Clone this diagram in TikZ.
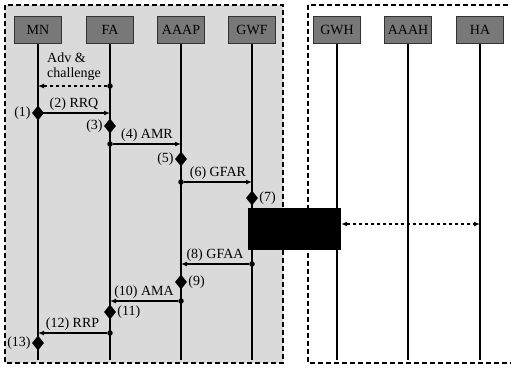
\documentclass[tikz,border=0pt]{standalone}
\usepackage{fontspec}
\setmainfont{Liberation Serif}
\usetikzlibrary{arrows.meta,positioning,shapes.geometric}
\definecolor{shade}{RGB}{218,218,218}
\definecolor{head}{RGB}{120,120,120}

\begin{document}
\begin{tikzpicture}[x=1pt, y=-1pt, font=\fontsize{14}{15}\selectfont,
  ent/.style={draw=black!80, fill=head, minimum width=47pt, minimum height=27pt, inner sep=1pt},
  evt/.style={diamond, fill=black, inner sep=0pt, minimum width=12pt, minimum height=15pt},
  dot/.style={circle, fill=black, inner sep=0pt, minimum size=5.5pt},
  msg/.style={-{Latex[length=6pt,width=5pt]}, line width=1.2pt},
  zone/.style={line width=1.8pt, dash pattern=on 5pt off 3pt}]
\useasboundingbox (0,0) rectangle (511,368);
% domains
\draw[zone, fill=shade] (5,5) rectangle (283,363);
\draw[zone] (308,5) rectangle (530,363);
% entities and lifelines
\node[ent] (mn) at (38,30) {MN};
\node[ent] (fa) at (110,30) {FA};
\node[ent] (aaap) at (181,30) {AAAP};
\node[ent] (gwf) at (252,30) {GWF};
\node[ent] (gwh) at (337,30) {GWH};
\node[ent] (aaah) at (408,30) {AAAH};
\node[ent] (ha) at (480,30) {HA};
\foreach \n in {mn,fa,aaap,gwf,gwh,aaah,ha}
  \draw[line width=1.4pt] (\n.south) -- (\n.south |- 0,360);
% advertisement
\node[dot] (s0) at (110,86) {};
\coordinate (t0) at (38,86);
\draw[msg, dashed] (s0) -- (t0);
\node[align=left, anchor=south west, inner sep=1pt] (adv) at (46,82) {Adv \&\\challenge};
% registration request
\node[evt] (e1) at (38,113) {};
\node[left=0pt of e1, inner sep=1pt] (l1) {(1)};
\coordinate (t2) at (110,113);
\draw[msg] (e1.center) -- node[above, inner sep=2pt] (l2) {(2) RRQ} (t2);
\node[evt] (e3) at (110,126) {};
\node[left=0pt of e3, inner sep=1pt] (l3) {(3)};
\node[dot] (s4) at (110,144) {};
\coordinate (t4) at (181,144);
\draw[msg] (s4) -- node[above, inner sep=2pt] (l4) {(4) AMR} (t4);
\node[evt] (e5) at (181,159) {};
\node[left=0pt of e5, inner sep=1pt] (l5) {(5)};
\node[dot] (s6) at (181,182) {};
\coordinate (t6) at (252,182);
\draw[msg] (s6) -- node[above, inner sep=2pt] (l6) {(6) GFAR} (t6);
\node[evt] (e7) at (252,198) {};
\node[right=0pt of e7, inner sep=1pt] (l7) {(7)};
% home domain exchange
\node[fill=black, minimum width=93pt, minimum height=42pt, inner sep=0pt] (tun) at (294.5,229) {};
\coordinate (hr) at (480,224);
\draw[dashed, line width=1.2pt, {Latex[length=6pt,width=5pt]}-{Latex[length=6pt,width=5pt]}] (tun.east |- hr) -- (hr);
% registration reply
\node[dot] (s8) at (252,264) {};
\coordinate (t8) at (181,264);
\draw[msg] (s8) -- node[above, inner sep=2pt] (l8) {(8) GFAA} (t8);
\node[evt] (e9) at (181,282) {};
\node[right=0pt of e9, inner sep=1pt] (l9) {(9)};
\node[dot] (s10) at (181,301) {};
\coordinate (t10) at (110,301);
\draw[msg] (s10) -- node[above, inner sep=2pt] (l10) {(10) AMA} (t10);
\node[evt] (e11) at (110,312) {};
\node[right=0pt of e11, inner sep=1pt] (l11) {(11)};
\node[dot] (s12) at (110,333) {};
\coordinate (t12) at (38,333);
\draw[msg] (s12) -- node[above, inner sep=2pt] (l12) {(12) RRP} (t12);
\node[evt] (e13) at (38,343) {};
\node[left=0pt of e13, inner sep=1pt] (l13) {(13)};
\end{tikzpicture}
\end{document}
